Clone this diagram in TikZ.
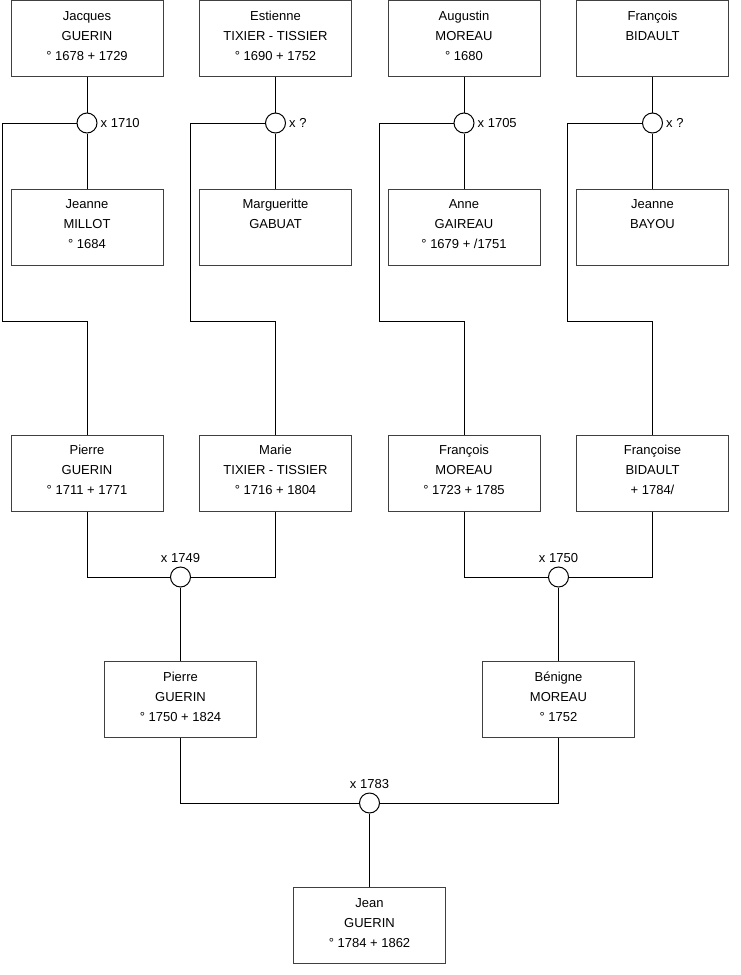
\documentclass[tikz,border=0pt]{standalone}
\usepackage{fontspec}
\setmainfont{Liberation Sans}
\usetikzlibrary{calc}
\definecolor{boxgray}{HTML}{404040}
\begin{document}
\begin{tikzpicture}[x=1pt,y=-1pt,
  person/.style={draw=boxgray, line width=1pt, minimum width=152pt, minimum height=76pt, inner sep=0,
    label={[anchor=north, yshift=-6pt, inner sep=0, align=center, font=\fontsize{13}{20}\selectfont]north:\strut #1}},
  ring/.style={circle, draw, fill=white, minimum size=20pt, inner sep=0, line width=1pt},
  wedding/.style={font=\fontsize{13}{16}\selectfont, inner sep=0},
  link/.style={line width=1pt}]
\useasboundingbox (0,0) rectangle (740,975);

% top row
\node[person={Jacques\\GUERIN\\° 1678 + 1729}] (jacques) at (87,38.5) {};
\node[person={Estienne\\TIXIER - TISSIER\\° 1690 + 1752}] (estienne) at (275.5,38.5) {};
\node[person={Augustin\\MOREAU\\° 1680}] (augustin) at (464,38.5) {};
\node[person={François\\BIDAULT}] (francoisb) at (652.5,38.5) {};

% wives
\node[person={Jeanne\\MILLOT\\° 1684}] (jeanne) at (87,227) {};
\node[person={Margueritte\\GABUAT}] (marguerite) at (275.5,227) {};
\node[person={Anne\\GAIREAU\\° 1679 + /1751}] (anne) at (464,227) {};
\node[person={Jeanne\\BAYOU}] (jeanneb) at (652.5,227) {};

% third row
\node[person={Pierre\\GUERIN\\° 1711 + 1771}] (pierre) at (87,473) {};
\node[person={Marie\\TIXIER - TISSIER\\° 1716 + 1804}] (marie) at (275.5,473) {};
\node[person={François\\MOREAU\\° 1723 + 1785}] (francoism) at (464,473) {};
\node[person={Françoise\\BIDAULT\\+ 1784/}] (francoise) at (652.5,473) {};

% fourth row
\node[person={Pierre\\GUERIN\\° 1750 + 1824}] (pierre2) at (180.5,699.5) {};
\node[person={Bénigne\\MOREAU\\° 1752}] (benigne) at (558.5,699.5) {};

% bottom
\node[person={Jean\\GUERIN\\° 1784 + 1862}] (jean) at (369.5,925.5) {};

% marriage rings
\node[ring] (m1) at (87,123) {};
\node[ring] (m2) at (275.5,123) {};
\node[ring] (m3) at (464,123) {};
\node[ring] (m4) at (652.5,123) {};
\node[ring] (m5) at (180.5,577) {};
\node[ring] (m6) at (558.5,577) {};
\node[ring] (m7) at (369.5,803) {};

% marriage labels
\node[wedding, anchor=west, xshift=3pt] (l1) at (m1.east) {x 1710};
\node[wedding, anchor=west, xshift=3pt] (l2) at (m2.east) {x ?};
\node[wedding, anchor=west, xshift=3pt] (l3) at (m3.east) {x 1705};
\node[wedding, anchor=west, xshift=3pt] (l4) at (m4.east) {x ?};
\node[wedding, anchor=south, yshift=4pt] (l5) at (m5.north) {x 1749};
\node[wedding, anchor=south, yshift=4pt] (l6) at (m6.north) {x 1750};
\node[wedding, anchor=south, yshift=4pt] (l7) at (m7.north) {x 1783};

% bend coordinates
\coordinate (k1) at (2,321);
\coordinate (k2) at (190.5,321);
\coordinate (k3) at (379,321);
\coordinate (k4) at (567.5,321);

% top couples
\draw[link] (jacques.south) -- (m1.north);
\draw[link] (m1.south) -- (jeanne.north);
\draw[link] (m1.west) -| (k1) -| (pierre.north);

\draw[link] (estienne.south) -- (m2.north);
\draw[link] (m2.south) -- (marguerite.north);
\draw[link] (m2.west) -| (k2) -| (marie.north);

\draw[link] (augustin.south) -- (m3.north);
\draw[link] (m3.south) -- (anne.north);
\draw[link] (m3.west) -| (k3) -| (francoism.north);

\draw[link] (francoisb.south) -- (m4.north);
\draw[link] (m4.south) -- (jeanneb.north);
\draw[link] (m4.west) -| (k4) -| (francoise.north);

% second couples
\draw[link] (pierre.south) |- (m5.west);
\draw[link] (marie.south) |- (m5.east);
\draw[link] (m5.south) -- (pierre2.north);

\draw[link] (francoism.south) |- (m6.west);
\draw[link] (francoise.south) |- (m6.east);
\draw[link] (m6.south) -- (benigne.north);

% third couple
\draw[link] (pierre2.south) |- (m7.west);
\draw[link] (benigne.south) |- (m7.east);
\draw[link] (m7.south) -- (jean.north);
\end{tikzpicture}
\end{document}
